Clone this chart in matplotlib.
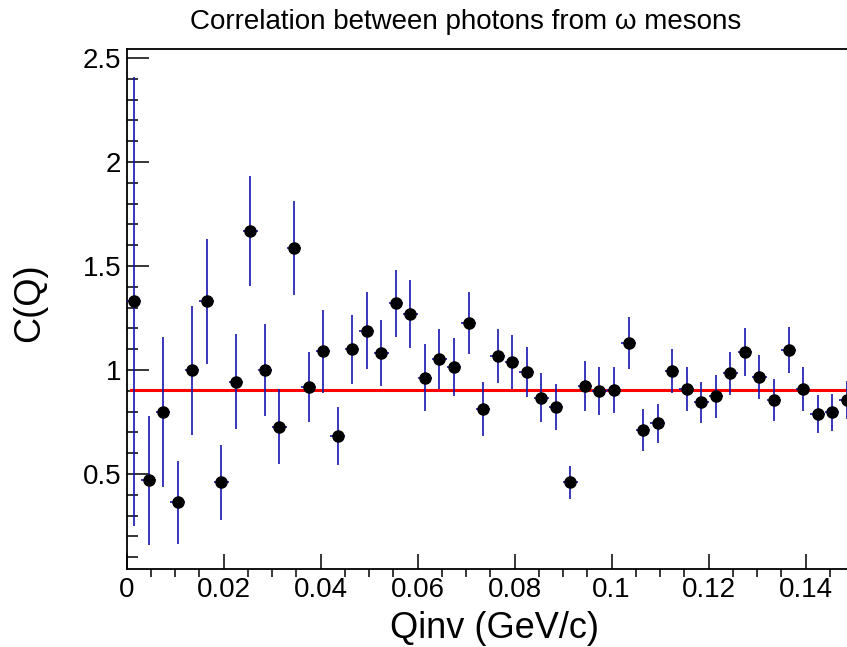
import matplotlib
matplotlib.use("Agg")
import matplotlib.pyplot as plt
import matplotlib.ticker as ticker
import numpy as np

plt.rcParams["font.family"] = ["Liberation Sans", "DejaVu Sans"]

# 50 bins of width 0.003 GeV/c between 0 and 0.15
bin_edges = np.linspace(0.0, 0.15, 51)
qinv = 0.5 * (bin_edges[:-1] + bin_edges[1:])
qinv_err = 0.5 * np.diff(bin_edges)

cq = [1.33, 0.47, 0.80, 0.365, 1.00, 1.33, 0.46, 0.945, 1.67, 1.00,
      0.727, 1.587, 0.918, 1.09, 0.683, 1.10, 1.19, 1.083, 1.32, 1.27,
      0.963, 1.053, 1.014, 1.226, 0.815, 1.067, 1.037, 0.99, 0.868, 0.823,
      0.46, 0.923, 0.90, 0.904, 1.13, 0.711, 0.744, 0.995, 0.908, 0.845,
      0.873, 0.985, 1.087, 0.967, 0.856, 1.096, 0.908, 0.788, 0.797, 0.856]
cq_err = [1.08, 0.31, 0.36, 0.20, 0.31, 0.30, 0.18, 0.23, 0.265, 0.22,
          0.18, 0.227, 0.17, 0.20, 0.14, 0.165, 0.185, 0.16, 0.16, 0.165,
          0.16, 0.145, 0.14, 0.15, 0.13, 0.13, 0.13, 0.12, 0.12, 0.11,
          0.08, 0.12, 0.115, 0.11, 0.125, 0.10, 0.095, 0.105, 0.107, 0.10,
          0.103, 0.103, 0.115, 0.104, 0.10, 0.11, 0.105, 0.09, 0.09, 0.09]

fit_level = 0.904
fit_range = (0.0008, 0.15)

fig = plt.figure(figsize=(8.47, 6.47), dpi=100)
ax = fig.add_axes([0.1496, 0.1213, 0.8587, 0.8022])

ax.plot(fit_range, [fit_level, fit_level], color="#ff0000", lw=2.2, zorder=2.5)
ax.errorbar(qinv, cq, yerr=cq_err, xerr=qinv_err, fmt="o", color="black",
            ms=8, ecolor="#1515b0", elinewidth=1.2, capsize=0, zorder=3)

ax.set_xlim(0, 0.15)
ax.set_ylim(0.046, 2.541)

ax.xaxis.set_major_locator(ticker.MultipleLocator(0.02))
ax.xaxis.set_minor_locator(ticker.MultipleLocator(0.005))
ax.yaxis.set_major_locator(ticker.MultipleLocator(0.5))
ax.yaxis.set_minor_locator(ticker.MultipleLocator(0.1))
ax.xaxis.set_major_formatter(ticker.FuncFormatter(lambda v, p: f"{v:g}"))
ax.yaxis.set_major_formatter(ticker.FuncFormatter(lambda v, p: f"{v:g}"))

ax.tick_params(axis="both", direction="in", labelsize=20, width=1.1)
ax.tick_params(axis="x", which="major", length=11, pad=6)
ax.tick_params(axis="x", which="minor", length=5.5, width=1.1)
ax.tick_params(axis="y", which="major", length=16, pad=4)
ax.tick_params(axis="y", which="minor", length=8, width=1.1, direction="in")
for s in ax.spines.values():
    s.set_linewidth(1.3)

fig.text(466 / 847, 1 - 22 / 647, "Correlation between photons from \u03c9 mesons",
         ha="center", va="center", fontsize=20)
fig.text(494 / 847, 1 - 628 / 647, "Qinv (GeV/c)", ha="center", va="center", fontsize=26)
fig.text(30 / 847, 1 - 303 / 647, "C(Q)", ha="center", va="center", fontsize=26,
         rotation=90)

fig.savefig("out.png", dpi=100)
